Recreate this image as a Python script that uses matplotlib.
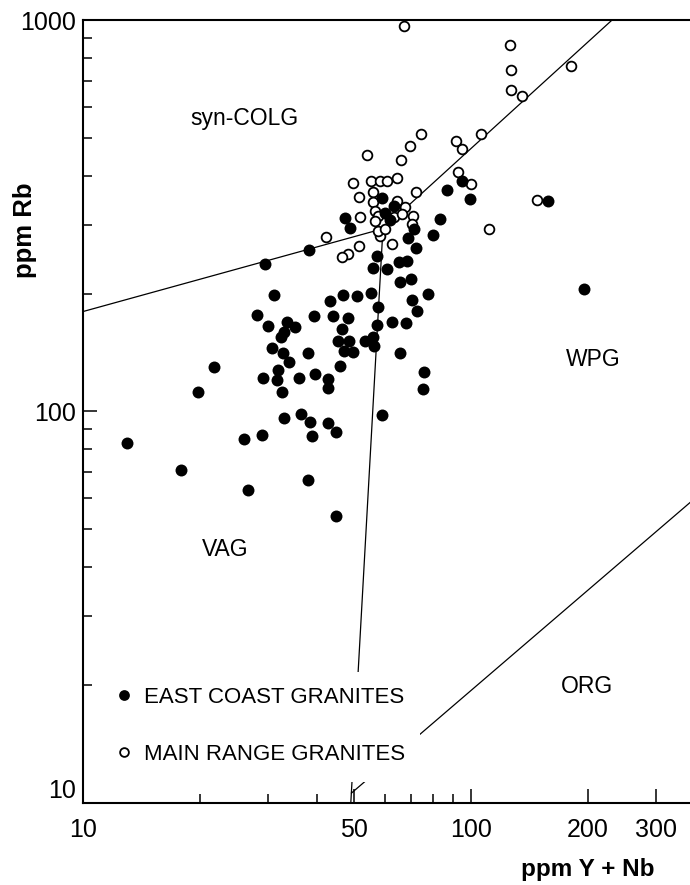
import matplotlib
matplotlib.use('Agg')
import matplotlib.pyplot as plt
from matplotlib.patches import Rectangle
from matplotlib.ticker import NullFormatter

plt.rcParams['font.family'] = ['Liberation Sans', 'DejaVu Sans']

# East Coast granites (filled): Y+Nb, Rb in ppm
east_ynb = [13.0, 17.9, 19.8, 21.8, 26.0, 29.0, 26.7, 45.0, 38.0,
            28.0, 29.9, 31.0, 29.5, 38.3, 33.5, 35.1, 32.9, 32.3,
            39.5, 43.2, 44.0, 46.4, 45.4, 48.4, 47.0, 49.6, 53.3,
            55.8, 56.2, 30.7, 32.8, 34.0, 38.0, 31.8, 29.1, 31.7,
            36.1, 39.7, 42.9, 42.7, 46.0, 32.6, 32.9, 36.4, 38.4,
            38.9, 42.7, 45.0, 46.9, 50.9, 55.4, 57.5, 48.1, 57.1,
            62.5, 67.9, 65.6, 75.7, 75.4, 58.8, 56.0, 60.8, 65.7,
            70.2, 77.6, 70.3, 72.4, 57.2, 65.3, 68.4, 47.3, 48.8,
            58.8, 63.2, 59.9, 61.8, 71.3, 68.8, 72.2, 83.0, 79.9,
            86.5, 95.0, 99.2, 158, 195]
east_rb = [83, 71, 112, 130, 85, 87, 63, 54, 67,
           176, 165, 198, 238, 258, 169, 164, 160, 155,
           175, 191, 175, 162, 151, 151, 143, 142, 151,
           155, 147, 145, 141, 134, 141, 128, 122, 120,
           122, 125, 121, 115, 131, 112, 96, 98.5, 94,
           86.5, 93.5, 88.6, 198, 197, 201, 185, 173, 166,
           169, 168, 141, 126, 114, 98, 233, 231, 214,
           218, 200, 193, 181, 250, 241, 243, 312, 294,
           351, 335, 322, 309, 293, 278, 261, 311, 283,
           369, 387, 348, 345, 206]

# Main Range granites (open)
main_ynb = [67.2, 126, 127, 126.5, 135, 181, 74.4, 69.8, 66.2,
            54.1, 91.3, 94.7, 106, 92.7, 100, 49.5, 55.4, 58.1,
            60.6, 64.6, 55.8, 72.0, 51.3, 51.7, 55.8, 148, 111,
            51.4, 48.2, 46.5, 62.6, 58.3, 70.7, 70.3, 42.4, 64.3,
            67.5, 56.5, 57.5, 56.5, 63.2, 66.3, 57.7, 60.1]
main_rb = [967, 862, 744, 661, 639, 763, 510, 477, 440,
           453, 492, 467, 510, 408, 382, 384, 388, 388,
           388, 395, 364, 364, 353, 314, 343, 346, 292,
           265, 253, 248, 268, 281, 316, 302, 279, 345,
           332, 325, 316, 307, 314, 320, 289, 293]

# field boundaries (x = Y+Nb, y = Rb)
boundaries = [
    ([10, 59.3], [180, 293]),      # VAG / syn-COLG
    ([59.3, 231], [293, 1000]),    # syn-COLG / WPG
    ([59.3, 49.0], [293, 10]),     # VAG / WPG
    ([49.2, 400], [10.6, 63]),     # WPG / ORG
]

field_names = ['syn-COLG', 'WPG', 'VAG', 'ORG']
field_x = [26, 206, 23.2, 199]
field_y = [560, 136, 44.5, 19.8]

xticks = [10, 50, 100, 200, 300]
xticks_minor = [20, 30, 40, 60, 70, 80, 90]
yticks = [10, 100, 1000]
yticks_minor = [20, 30, 40, 50, 60, 70, 80, 90,
                200, 300, 400, 500, 600, 700, 800, 900]

fig = plt.figure(figsize=(6.9, 8.85), dpi=100)
ax = fig.add_axes([0.1203, 0.0927, 0.8797, 0.8847])
ax.set_xscale('log')
ax.set_yscale('log')
ax.set_xlim(10, 366.8)
ax.set_ylim(10, 1000)

for bx, by in boundaries:
    ax.plot(bx, by, color='black', lw=0.9, zorder=2)

main_pts, = ax.plot(main_ynb, main_rb, 'o', ms=7, mfc='white', mec='black',
                    mew=1.3, ls='none', zorder=3, label='MAIN RANGE GRANITES')
east_pts, = ax.plot(east_ynb, east_rb, 'o', ms=8.6, mfc='black', mec='black',
                    mew=0, ls='none', zorder=3.5, label='EAST COAST GRANITES')

for name, fx, fy in zip(field_names, field_x, field_y):
    ax.text(fx, fy, name, fontsize=16.5, ha='center', va='center')

# blank patch behind the key so the boundary lines stop short of it
ax.add_patch(Rectangle((0.036, 0.0268), 0.519, 0.1405, transform=ax.transAxes,
                       facecolor='white', edgecolor='none', zorder=4))
ax.legend(handles=[east_pts, main_pts], loc='center left',
          bbox_to_anchor=(0.0494, 0.0985), frameon=False, fontsize=16,
          handlelength=1.0, handletextpad=0.4, labelspacing=1.63,
          borderpad=0, borderaxespad=0, markerscale=0.9).set_zorder(5)

ax.set_xticks(xticks, labels=[str(t) for t in xticks])
ax.set_xticks(xticks_minor, minor=True)
ax.set_yticks(yticks, labels=[str(t) for t in yticks])
ax.set_yticks(yticks_minor, minor=True)
ax.xaxis.set_minor_formatter(NullFormatter())
ax.yaxis.set_minor_formatter(NullFormatter())
ax.tick_params(which='both', direction='in', width=1.1, top=False, right=False)
ax.tick_params(which='major', length=10)
ax.tick_params(which='minor', length=6.5)
ax.tick_params(axis='x', pad=11, labelsize=18)
ax.tick_params(axis='y', pad=5, labelsize=18)
ax.get_yticklabels()[0].set_verticalalignment('bottom')

for side in ['left', 'bottom', 'top']:
    ax.spines[side].set_linewidth(1.5)
ax.spines['right'].set_visible(False)

fig.text(0.036, 0.740, 'ppm Rb', rotation=90, fontsize=18.5, fontweight='bold',
         ha='center', va='center')
fig.text(0.852, 0.017, 'ppm Y + Nb', fontsize=17.5, fontweight='bold',
         ha='center', va='center')

fig.savefig('out.png', dpi=100)
